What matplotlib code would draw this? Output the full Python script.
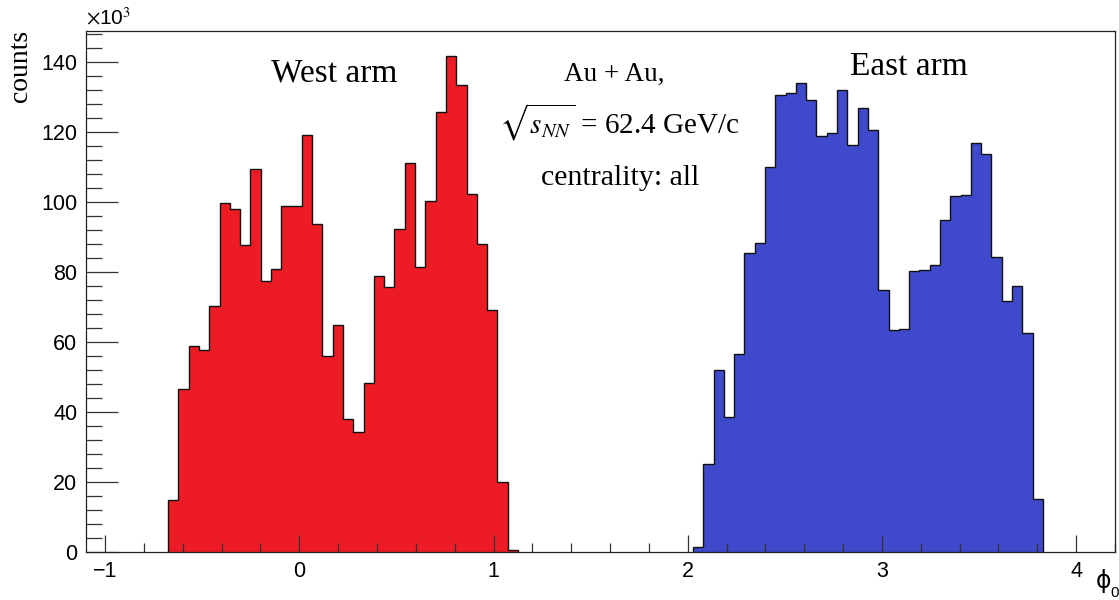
import matplotlib
matplotlib.use("Agg")
import matplotlib.pyplot as plt
import numpy as np
from matplotlib.ticker import MultipleLocator

# histogram binning: 100 bins on [-1.1, 4.2]
nbins = 100
xlo, xhi = -1.1, 4.2

# west arm, bins 8..41 (counts in units of 10^3)
west_first = 8
west = [14.8, 46.6, 59.0, 57.8, 70.3, 99.8, 97.9, 87.7, 109.4, 77.4, 80.9, 98.7,
        98.9, 119.0, 93.6, 56.0, 64.9, 38.0, 34.3, 48.3, 79.0, 75.7, 92.2, 111.0,
        81.4, 100.3, 125.8, 141.7, 133.5, 102.4, 88.1, 69.3, 20.0, 0.6]

# east arm, bins 59..92
east_first = 59
east = [1.4, 25.1, 52.1, 38.7, 56.6, 85.3, 88.3, 110.0, 130.6, 131.0, 134.0, 129.1,
        118.9, 119.8, 131.9, 116.2, 126.8, 120.4, 75.0, 63.5, 63.7, 80.2, 80.7, 82.0,
        94.9, 101.7, 102.0, 116.7, 113.7, 84.2, 71.8, 76.0, 62.6, 15.1]

all_edges = np.linspace(xlo, xhi, nbins + 1)
west_edges = all_edges[west_first:west_first + len(west) + 1]
east_edges = all_edges[east_first:east_first + len(east) + 1]

plt.rcParams['mathtext.fontset'] = 'stix'
serif = 'Liberation Serif'
sans = 'Liberation Sans'

fig = plt.figure(figsize=(11.19, 6), dpi=100)
ax = fig.add_axes([0.0766, 0.0795, 0.9198, 0.8688])

ax.stairs(west, west_edges, fill=True, facecolor='#ED1C24', edgecolor='#111111', linewidth=1.0)
ax.stairs(east, east_edges, fill=True, facecolor='#3F49CC', edgecolor='#111111', linewidth=1.0)

ax.set_xlim(xlo, xhi)
ax.set_ylim(0, 1.05 * max(max(west), max(east)))

ax.xaxis.set_major_locator(MultipleLocator(1))
ax.xaxis.set_minor_locator(MultipleLocator(0.2))
ax.yaxis.set_major_locator(MultipleLocator(20))
ax.yaxis.set_minor_locator(MultipleLocator(4))
ax.tick_params(axis='both', which='both', direction='in', top=False, right=False,
               width=0.9, color='#333333', labelsize=15.5)
ax.tick_params(axis='y', which='major', length=23, pad=6)
ax.tick_params(axis='y', which='minor', length=11.5)
ax.tick_params(axis='x', which='major', length=12, pad=6)
ax.tick_params(axis='x', which='minor', length=6.5)
for lab in ax.get_xticklabels() + ax.get_yticklabels():
    lab.set_family(sans)
for s in ax.spines.values():
    s.set_linewidth(0.9)
    s.set_color('#222222')

ax.text(-1.1, 149.5, r'$\times$10$^3$', fontsize=15, family=sans, ha='left', va='bottom')
# x axis title: phi with subscript 0, upright sans
fig.text(0.979, 0.012, '\u03d5', fontsize=17, family='DejaVu Sans', ha='left', va='bottom')
fig.text(0.992, 0.0, '0', fontsize=11, family=sans, ha='left', va='bottom')
fig.text(0.018, 0.95, 'counts', fontsize=20, family=serif, rotation=90, ha='center', va='top')

ax.text(0.18, 134.4, 'West arm', fontsize=24, family=serif, ha='center', va='baseline')
ax.text(3.14, 136.1, 'East arm', fontsize=24, family=serif, ha='center', va='baseline')
ax.text(1.62, 134.5, 'Au + Au,', fontsize=19.5, family=serif, ha='center', va='baseline')
ax.text(1.65, 119.5, r'$\sqrt{s_{NN}}$ = 62.4 GeV/c', fontsize=21, family=serif,
        ha='center', va='baseline')
ax.text(1.65, 104.8, 'centrality: all', fontsize=21.5, family=serif, ha='center', va='baseline')

fig.savefig('out.png', dpi=100)
